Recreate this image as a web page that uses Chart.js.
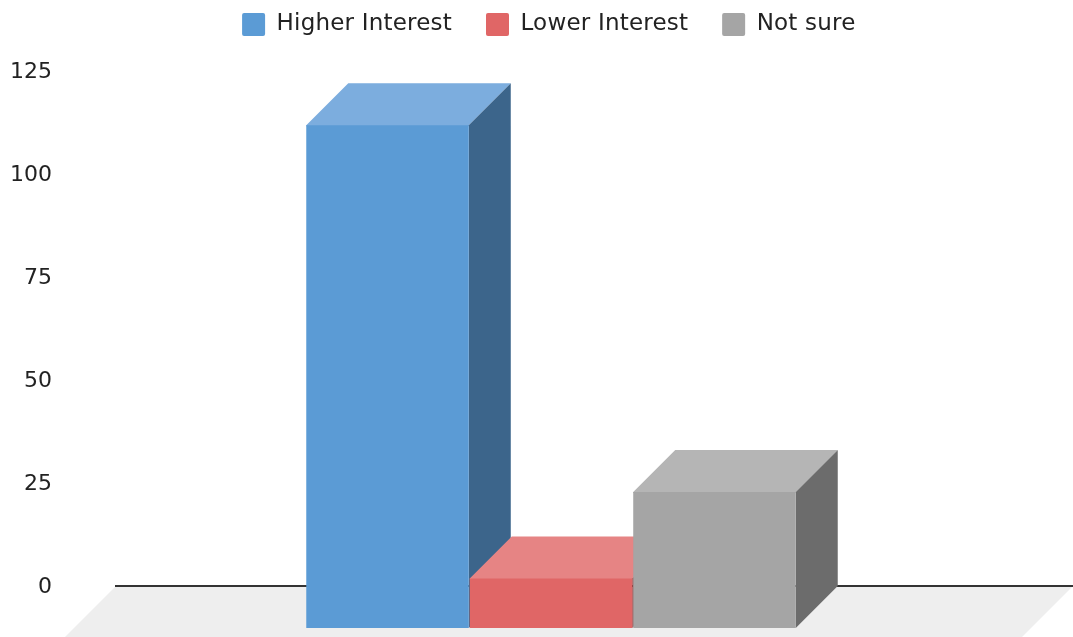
<!DOCTYPE html>
<html>
<head>
<meta charset="utf-8">
<script src="https://cdn.jsdelivr.net/npm/chart.js@4/dist/chart.umd.min.js"></script>
<style>
    body { margin: 0; background: #fff; }
    canvas { display: block; }
</style>
</head>
<body>
<canvas id="chart" width="1073" height="637"></canvas>
<script>
const categories = ["Interest"];
const seriesNames = ["Higher Interest", "Lower Interest", "Not sure"];
const higherValues = [122];
const lowerValues = [12];
const notSureValues = [33];
const yTicks = [0, 25, 50, 75, 100, 125];

const frontColors = ["#5b9bd5", "#e06666", "#a5a5a5"];
const topColors = ["#7cadde", "#e68484", "#b5b5b5"];
const sideColors = ["#3c658b", "#934343", "#6c6c6c"];

// how far the front face sits in front of the back plane
const depth = 42;
const barNudge = -1.5;

const floorPlugin = {
    id: "floor",
    beforeDraw(chart) {
        const { ctx, chartArea } = chart;
        const drop = chart.height - chartArea.bottom;
        ctx.save();
        ctx.fillStyle = "#eeeeee";
        ctx.beginPath();
        ctx.moveTo(chartArea.left, chartArea.bottom);
        ctx.lineTo(chartArea.right, chartArea.bottom);
        ctx.lineTo(chartArea.right - drop, chart.height);
        ctx.lineTo(chartArea.left - drop, chart.height);
        ctx.closePath();
        ctx.fill();
        ctx.restore();
    }
};

// top and side faces go first, left to right, then Chart.js draws the fronts shifted forward
const boxPlugin = {
    id: "box",
    beforeDatasetsDraw(chart) {
        const { ctx } = chart;
        seriesNames.forEach((name, i) => {
            const bar = chart.getDatasetMeta(i).data[0];
            const left = bar.x - bar.width / 2;
            const right = bar.x + bar.width / 2;

            ctx.save();
            ctx.translate(barNudge, 0);
            // one px under the front face so no seam shows at its top edge
            ctx.fillStyle = topColors[i];
            ctx.beginPath();
            ctx.moveTo(left - depth, bar.y + depth + 1);
            ctx.lineTo(left - depth, bar.y + depth);
            ctx.lineTo(left, bar.y);
            ctx.lineTo(right, bar.y);
            ctx.lineTo(right - depth, bar.y + depth);
            ctx.lineTo(right - depth, bar.y + depth + 1);
            ctx.closePath();
            ctx.fill();

            ctx.fillStyle = sideColors[i];
            ctx.beginPath();
            ctx.moveTo(right - depth, bar.y + depth);
            ctx.lineTo(right, bar.y);
            ctx.lineTo(right, bar.base);
            ctx.lineTo(right - depth, bar.base + depth);
            ctx.closePath();
            ctx.fill();
            ctx.restore();
        });
    },
    beforeDatasetDraw(chart) {
        chart.ctx.save();
        chart.ctx.translate(barNudge - depth, depth);
    },
    afterDatasetDraw(chart) {
        chart.ctx.restore();
    }
};

// legend keeps a wide item gap but must not push the plot area down
const legendPlugin = {
    id: "legendPlace",
    beforeLayout(chart) {
        const legend = chart.legend;
        if (legend.patched) return;
        legend.patched = true;
        const fit = legend.fit;
        const draw = legend.draw;
        legend.fit = function () {
            chart.ctx.letterSpacing = "0.2px";
            fit.call(this);
            chart.ctx.letterSpacing = "0px";
            this.height = 71;
        };
        legend.draw = function () {
            chart.ctx.letterSpacing = "0.2px";
            draw.call(this);
            chart.ctx.letterSpacing = "0px";
        };
    },
    afterLayout(chart) {
        chart.legend.top = -21;
        chart.legend.left += 12.3;
        chart.legend.right += 12.3;
    }
};

const allValues = [higherValues, lowerValues, notSureValues];

new Chart(document.getElementById("chart"), {
    type: "bar",
    data: {
        labels: categories,
        datasets: seriesNames.map((name, i) => ({
            label: name,
            data: allValues[i],
            backgroundColor: frontColors[i],
            clip: false
        }))
    },
    options: {
        responsive: false,
        animation: false,
        barPercentage: 0.994,
        categoryPercentage: 0.5125,
        plugins: {
            tooltip: { enabled: false },
            legend: {
                position: "top",
                labels: {
                    boxWidth: 23,
                    boxHeight: 23,
                    padding: 34,
                    color: "#222222",
                    useBorderRadius: true,
                    borderRadius: 2,
                    font: { family: "'DejaVu Sans'", size: 23 }
                }
            }
        },
        scales: {
            x: {
                grid: { display: false },
                border: { color: "#333333", width: 2 },
                ticks: { display: false },
                afterFit(scale) { scale.height = 51; }
            },
            y: {
                min: 0,
                max: 125,
                afterBuildTicks(scale) { scale.ticks = yTicks.map(v => ({ value: v })); },
                grid: { display: false, drawTicks: false },
                border: { display: false },
                ticks: {
                    padding: 64,
                    labelOffset: 1,
                    color: "#222222",
                    font: { family: "'DejaVu Sans'", size: 22 }
                },
                afterFit(scale) {
                    scale.width = 116;
                    // the tick padding would otherwise shrink the plot area
                    scale.paddingTop = 0;
                    scale.paddingBottom = 0;
                }
            }
        }
    },
    plugins: [floorPlugin, boxPlugin, legendPlugin]
});
</script>
</body>
</html>
